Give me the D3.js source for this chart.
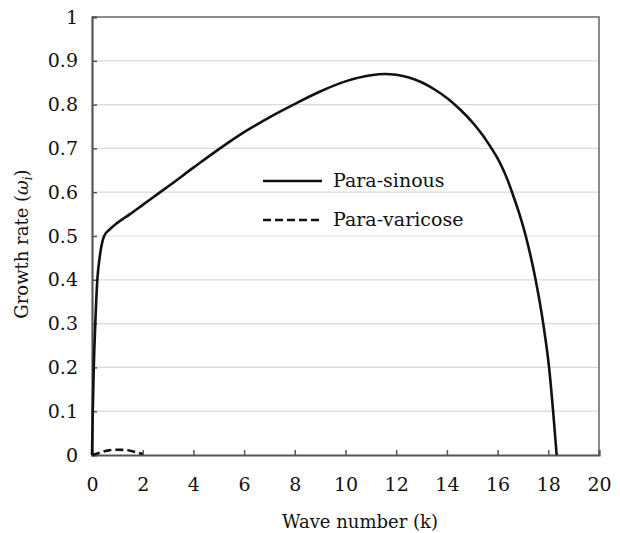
<!DOCTYPE html>
<html><head><meta charset="utf-8">
<script src="https://cdn.jsdelivr.net/npm/d3@7"></script>
<style>body{margin:0;background:#fff}svg{display:block}</style>
</head><body><div id="chart"></div>
<script>
const sinousK = [0,0.03,0.07,0.13,0.21,0.3,0.48,0.7,1.0,1.5,2.0,2.64,3.0,4.0,5.05,6.0,7.0,7.95,9.0,10.0,11.0,11.55,12.0,12.5,13.0,13.5,14.0,14.5,15.0,15.2,15.4,15.58,15.76,16.0,16.2,16.4,16.57,16.85,17.11,17.5,17.8,18.03,18.19,18.33];
const sinousW = [0,0.1,0.2,0.3,0.4,0.45,0.5,0.515,0.53,0.55,0.571,0.598,0.613,0.656,0.7,0.737,0.771,0.8,0.83,0.853,0.867,0.87,0.868,0.862,0.851,0.835,0.815,0.79,0.76,0.746,0.731,0.716,0.7,0.677,0.654,0.627,0.6,0.552,0.5,0.4,0.3,0.2,0.1,0];
const varicoseK = [0,0.3,0.6,1.0,1.4,1.7,2.0];
const varicoseW = [0,0.005,0.01,0.012,0.011,0.007,0.002];
const xTicks = [0,2,4,6,8,10,12,14,16,18,20];
const yTicks = [0,0.1,0.2,0.3,0.4,0.5,0.6,0.7,0.8,0.9,1];
const legendLabels = ["Para-sinous","Para-varicose"];

const W=620,H=533;
const FONT='"DejaVu Serif", "Liberation Serif", serif';
const FS=19;
const svg=d3.select("#chart").append("svg").attr("width",W).attr("height",H).style("font-family",FONT);
const x=d3.scaleLinear().domain([0,20]).range([92,599]);
const y=d3.scaleLinear().domain([0,1]).range([455,17]);

// gridlines
svg.append("g").selectAll("line").data(yTicks.filter(d=>d>0 && d<1)).join("line")
  .attr("x1",x(0)).attr("x2",x(20)).attr("y1",d=>y(d)).attr("y2",d=>y(d))
  .attr("stroke","#d9d9d9").attr("stroke-width",1.2);

// frame top/right
svg.append("path").attr("d",`M${x(0)},${y(1)}H${x(20)}V${y(0)}`).attr("fill","none").attr("stroke","#666").attr("stroke-width",1.5);

// axes
const yAxis=d3.axisLeft(y).tickValues(yTicks).tickSize(-5).tickPadding(14).tickFormat(d=>d3.format("")(d));
const gy=svg.append("g").attr("transform",`translate(${x(0)},0)`).call(yAxis);
gy.attr("font-family",null).attr("font-size",null);
gy.select(".domain").attr("stroke","#555").attr("stroke-width",2.2);
gy.selectAll(".tick line").attr("stroke","#555").attr("stroke-width",1.5);
gy.selectAll(".tick text").attr("fill","#111").style("font-family",FONT).style("font-size",FS+"px");

const xAxis=d3.axisBottom(x).tickValues(xTicks).tickSize(-5).tickPadding(23);
const gx=svg.append("g").attr("transform",`translate(0,${y(0)})`).call(xAxis);
gx.attr("font-family",null).attr("font-size",null);
gx.select(".domain").attr("stroke","#555").attr("stroke-width",2.2);
gx.selectAll(".tick line").attr("stroke","#555").attr("stroke-width",1.5);
gx.selectAll(".tick text").attr("fill","#111").style("font-family",FONT).style("font-size",FS+"px");

// curves
const sData=sinousK.map((k,i)=>[k,sinousW[i]]);
const vData=varicoseK.map((k,i)=>[k,varicoseW[i]]);
svg.append("path").datum(sData).attr("d",d3.line().x(d=>x(d[0])).y(d=>y(d[1])).curve(d3.curveMonotoneX))
  .attr("fill","none").attr("stroke","#111").attr("stroke-width",2.6);
svg.append("path").datum(vData).attr("d",d3.line().x(d=>x(d[0])).y(d=>y(d[1])).curve(d3.curveMonotoneX))
  .attr("fill","none").attr("stroke","#111").attr("stroke-width",2.6).attr("stroke-dasharray","8,4");

// legend
const lg=svg.append("g");
[0,1].forEach(i=>{
  const yy=[181,220][i];
  lg.append("line").attr("x1",263).attr("x2",322).attr("y1",yy).attr("y2",yy)
    .attr("stroke","#111").attr("stroke-width",2.6).attr("stroke-dasharray",i?"8,4":null);
  lg.append("text").attr("x",333).attr("y",yy+6).style("font-family",FONT).style("font-size",FS+"px").attr("fill","#111").text(legendLabels[i]);
});

// axis titles
svg.append("text").attr("x",360).attr("y",528).attr("text-anchor","middle").style("font-family",FONT).style("font-size","18px").attr("fill","#111").text("Wave number (k)");
const yt=svg.append("text").attr("transform","translate(28,244) rotate(-90)").attr("text-anchor","middle").style("font-family",FONT).style("font-size","18px").attr("fill","#111");
yt.append("tspan").text("Growth rate (");
yt.append("tspan").attr("font-style","italic").text("ω");
yt.append("tspan").style("font-size","12px").attr("dy",4).attr("font-style","italic").text("i");
yt.append("tspan").attr("dy",-4).text(")");
</script></body></html>
